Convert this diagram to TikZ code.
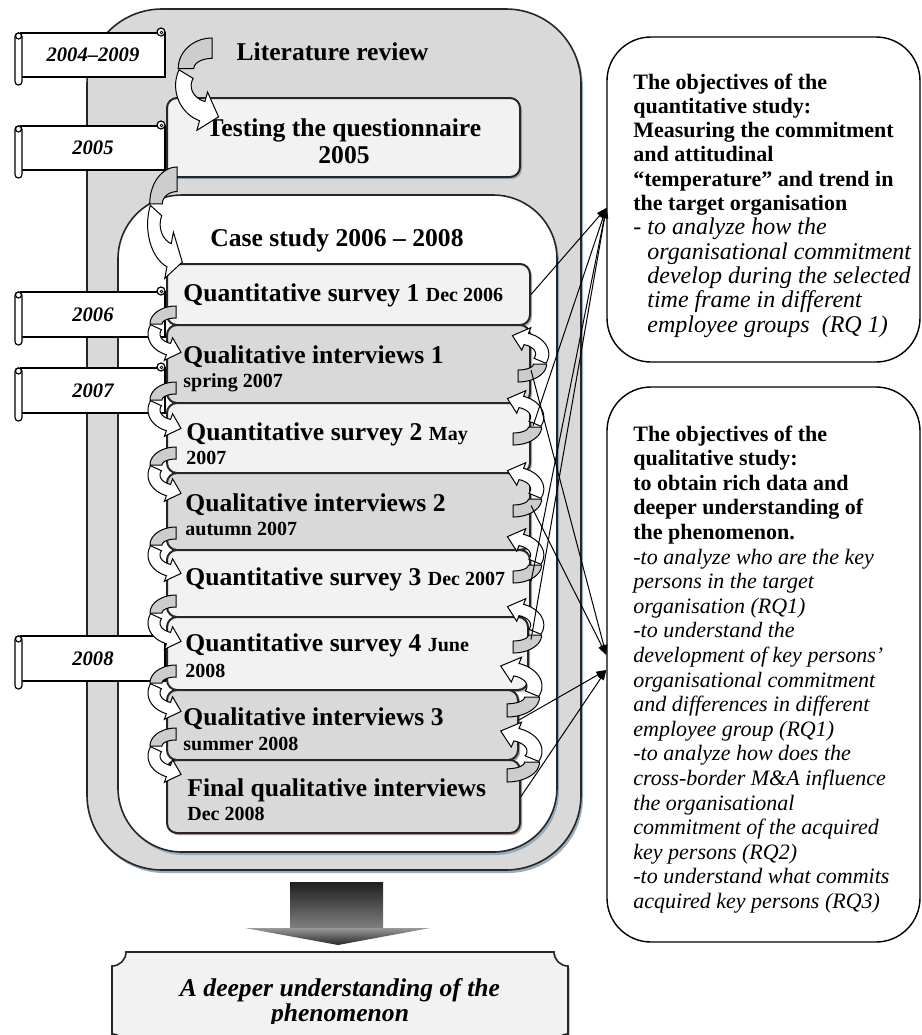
\documentclass[tikz,border=0pt]{standalone}
\usepackage{fontspec}
\setmainfont{Liberation Serif}
\usetikzlibrary{shadows,calc,arrows.meta}

\definecolor{edge}{HTML}{262626}
\definecolor{panelgray}{HTML}{D9D9D9}
\definecolor{palegray}{HTML}{F2F2F2}
\definecolor{backface}{HTML}{CDCDCD}
\definecolor{shadowblue}{HTML}{8FA5B8}
\definecolor{shadowrose}{HTML}{B89A9A}

\newcommand\sm[1]{{\fontsize{10}{12}\selectfont #1}}

% a small paper scroll carrying a year label
\newcommand\yearscroll[4]{%
  \filldraw[scrollpart] (21,#2) rectangle (165,#3);
  \filldraw[scrollpart, rounded corners=1.7pt] (15,#2) rectangle (22,{#3+8});
  \draw[scrollpart] (18.5,{#2+3}) circle[radius=1.5pt];
  \filldraw[scrollpart] (161,{#2-1}) circle[radius=2pt];
  \draw[line width=0.4pt] (161.5,{#2-0.5}) circle[radius=0.7pt];
  \node[yeartxt] (#1) at (93,{(#2+#3)/2}) {#4};
}

\tikzset{
  panel/.style={draw=edge, line width=0.8pt, inner sep=0pt,
    drop shadow={shadow xshift=1pt, shadow yshift=-1.5pt, fill=shadowblue, opacity=0.9}},
  stagebox/.style={draw=edge, line width=1pt, rounded corners=5pt, inner sep=0pt,
    drop shadow={shadow xshift=1pt, shadow yshift=-1pt, fill=shadowblue, opacity=0.8}},
  quantbox/.style={stagebox, fill=palegray},
  qualbox/.style={stagebox, fill=panelgray},
  roseshadow/.style={drop shadow={shadow xshift=1pt, shadow yshift=-1pt, fill=shadowrose, opacity=0.8}},
  goalbox/.style={draw=black, line width=0.7pt, fill=white, rounded corners=22pt, inner sep=0pt},
  bigbold/.style={font=\fontsize{12.8}{14}\selectfont\bfseries, inner sep=0pt},
  stagetxt/.style={anchor=base west, font=\fontsize{12.8}{14}\selectfont\bfseries, inner sep=0pt},
  stagesmall/.style={anchor=base west, font=\fontsize{10}{12}\selectfont\bfseries, inner sep=0pt},
  yeartxt/.style={font=\fontsize{10.3}{12}\selectfont\bfseries\itshape, inner sep=0pt},
  scrollpart/.style={fill=white, draw=black, line width=0.6pt},
  goalbold/.style={anchor=base west, font=\fontsize{11}{12}\selectfont\bfseries, inner sep=0pt},
  goalitbig/.style={anchor=base west, font=\fontsize{12}{12}\selectfont\itshape, inner sep=0pt},
  goalit/.style={anchor=base west, font=\fontsize{11}{12}\selectfont\itshape, inner sep=0pt},
  link/.style={-{Triangle[length=5pt,width=3.6pt]}, line width=0.5pt, black},
  ribbon/.pic={
    % back face seen near the tail
    \filldraw[fill=backface, draw=black, line width=0.5pt]
      plot[domain=-90:-180, samples=20, variable=\t] ({26*cos(\t)},{18+18*sin(\t)})
      -- plot[domain=-180:-90, samples=20, variable=\t] ({14*cos(\t)},{18+6*sin(\t)}) -- cycle;
    % front face ending in the head
    \filldraw[fill=white, draw=black, line width=0.5pt]
      plot[domain=205:110, samples=25, variable=\t] ({28*cos(\t)},{28+22*sin(\t)})
      -- (-11.64,54.31) -- (5.04,46.37) -- (-3.42,31.77)
      -- plot[domain=110:205, samples=25, variable=\t] ({16*cos(\t)},{28+10*sin(\t)}) -- cycle;
  }
}

\begin{document}
\begin{tikzpicture}[x=0.5pt, y=-0.5pt]
\useasboundingbox (0,0) rectangle (922,1035);
\clip (0,0) rectangle (922,1035);

% literature review frame
\node[panel, fill=panelgray, rounded corners=37.5pt, minimum width=247pt, minimum height=430.5pt] (review) at (334,439.5) {};
\node[bigbold, anchor=base] (reviewtxt) at (332.5,60) {Literature review};

% questionnaire test
\node[quantbox, minimum width=176.5pt, minimum height=39.5pt] (test) at (343.5,137.5) {};
\node[bigbold, anchor=base] (testtxt) at (344,136) {Testing the questionnaire};
\node[bigbold, anchor=base] (testyr) at (344,163) {2005};

% case study frame
\node[panel, fill=white, rounded corners=32pt, minimum width=219.5pt, minimum height=328.5pt] (case) at (337.5,523.5) {};
\node[bigbold, anchor=base] (casetxt) at (337,246) {Case study 2006 – 2008};

% survey and interview rounds
\node[quantbox, minimum width=181.5pt, minimum height=30.5pt] (b1) at (348.5,294.5) {};
\node[qualbox,  minimum width=181.5pt, minimum height=39pt]   (b2) at (348.5,364) {};
\node[quantbox, minimum width=181.5pt, minimum height=35pt]   (b3) at (348.5,438) {};
\node[qualbox,  minimum width=181.5pt, minimum height=38.5pt] (b4) at (348.5,511.5) {};
\node[quantbox, minimum width=181.5pt, minimum height=33.5pt] (b5) at (348.5,583.5) {};
\node[quantbox, minimum width=180.5pt, minimum height=36.5pt] (b6) at (347.5,653.5) {};
\node[qualbox, roseshadow, minimum width=175.5pt, minimum height=35pt]   (b7) at (342.5,725) {};
\node[qualbox, roseshadow, minimum width=176.5pt, minimum height=36.5pt] (b8) at (343.5,796.5) {};

\node[stagetxt] (t1) at (183,301) {Quantitative survey 1 \sm{Dec 2006}};
\node[stagetxt] (t2) at (183,363) {Qualitative interviews 1};
\node[stagesmall] (t2b) at (183,387) {spring 2007};
\node[stagetxt] (t3) at (186,440) {Quantitative survey 2 \sm{May}};
\node[stagesmall] (t3b) at (186,464) {2007};
\node[stagetxt] (t4) at (185,511) {Qualitative interviews 2};
\node[stagesmall] (t4b) at (185,535) {autumn 2007};
\node[stagetxt] (t5) at (185,585) {Quantitative survey 3 \sm{Dec 2007}};
\node[stagetxt] (t6) at (185,651) {Quantitative survey 4 \sm{June}};
\node[stagesmall] (t6b) at (185,677) {2008};
\node[stagetxt] (t7) at (183,725) {Qualitative interviews 3};
\node[stagesmall] (t7b) at (183,750) {summer 2008};
\node[stagetxt] (t8) at (187,796) {Final qualitative interviews};
\node[stagesmall] (t8b) at (187,820) {Dec 2008};

% year scrolls
\yearscroll{yr0409}{33}{77}{2004–2009}
\yearscroll{yr05}{126}{170}{2005}
\yearscroll{yr06}{292}{337}{2006}
\yearscroll{yr07}{368}{413}{2007}
\yearscroll{yr08}{636}{681}{2008}

% curved ribbon arrows, forward on the left
\pic[xscale=1.3, yscale=1.7] at (212,38) {ribbon};
\pic[xscale=1.05, yscale=2.05] at (177,167) {ribbon};
\foreach \yy in {306,382,447,527,595,665,728}
  \pic at (176,\yy) {ribbon};
% and back on the right
\pic[rotate=180, xscale=1.1] at (518,382) {ribbon};
\pic[rotate=180, xscale=1.1] at (513,445) {ribbon};
\pic[rotate=180, xscale=1.1] at (513,517) {ribbon};
\pic[rotate=180, xscale=1.1] at (513,583) {ribbon};
\pic[rotate=180, xscale=1.1] at (513,653) {ribbon};
\pic[rotate=180, xscale=1.25, yscale=1.1] at (507,717) {ribbon};
\pic[rotate=180, xscale=1.25, yscale=1.1] at (507,782) {ribbon};

% objective boxes
\node[goalbox, minimum width=156.5pt, minimum height=162.5pt] (quant) at (763.5,199.5) {};
\node[goalbox, minimum width=156.5pt, minimum height=277.5pt] (qual) at (763.5,664.5) {};

\foreach \txt [count=\i from 0] in {The objectives of the, quantitative study:, Measuring the commitment, and attitudinal, “temperature” and trend in, the target organisation}
  \node[goalbold] (qa\i) at (633,{89+24.3*\i}) {\txt};
\node[goalitbig] (qdash) at (633,{89+24.3*6}) {-};
\foreach \txt [count=\i from 6] in {to analyze how the, organisational commitment, develop during the selected, time frame in different, employee groups~ (RQ 1)}
  \node[goalitbig] (qa\i) at (647,{89+24.3*\i}) {\txt};

\foreach \txt [count=\i from 0] in {The objectives of the, qualitative study:, to obtain rich data and, deeper understanding of, the phenomenon.}
  \node[goalbold] (ql\i) at (633,{441+24.6*\i}) {\txt};
\foreach \txt [count=\i from 5] in {-to analyze who are the key, persons in the target, organisation (RQ1), -to understand the, development of key persons’, organisational commitment, and differences in different, employee group (RQ1), -to analyze how does the, cross-border M\&A influence, the organisational, commitment of the acquired, key persons (RQ2), -to understand what commits, acquired key persons (RQ3)}
  \node[goalit] (ql\i) at (633,{441+24.6*\i}) {\txt};

% links from the rounds to the objectives
\coordinate (qtip) at ($(quant.west)+(0,8.5)$);
\coordinate (qlA) at ($(qual.west)+(0,-9.5)$);
\coordinate (qlB) at ($(qual.west)+(0,5.5)$);
\draw[link] (b1.east) -- (qtip);
\draw[link] ($(b3.east)+(2,-12)$) -- (qtip);
\draw[link] ($(b5.east)+(0,-2)$) -- (qtip);
\draw[link] ($(b6.east)+(2,-14)$) -- (qtip);
\draw[link] ($(b2.east)+(0,6)$) -- (qlA);
\draw[link] ($(b4.east)+(0,-6)$) -- (qlA);
\draw[link] ($(b7.east)+(0,-5)$) -- (qlB);
\draw[link] ($(b8.east)+(0,0)$) -- (qlB);

% result arrow
\shade[top color=black!88, middle color=black!28, bottom color=black!50] (290,882) rectangle (383,928);
\shade[top color=black!40, bottom color=black!85] (245,928) -- (430,928) -- (338,945) -- cycle;

% result plaque
\filldraw[fill=palegray, draw=edge, line width=0.8pt,
  drop shadow={shadow xshift=1pt, shadow yshift=-1pt, fill=black!35, opacity=0.6}]
  (126,952) -- (554,952) .. controls (554,959.7) and (560.3,966) .. (568,966)
  -- (568,1034) .. controls (560.3,1034) and (554,1040.3) .. (554,1048)
  -- (126,1048) .. controls (126,1040.3) and (119.7,1034) .. (112,1034)
  -- (112,966) .. controls (119.7,966) and (126,959.7) .. (126,952) -- cycle;
\begin{scope}
  \clip (112,952) rectangle (568,1023);
  \node[anchor=base, font=\fontsize{12.8}{14}\selectfont\bfseries\itshape, inner sep=0pt] (res1) at (340,996) {A deeper understanding of the};
  \node[anchor=base, font=\fontsize{12.8}{14}\selectfont\bfseries\itshape, inner sep=0pt] (res2) at (340,1021) {phenomenon};
\end{scope}
\end{tikzpicture}
\end{document}
